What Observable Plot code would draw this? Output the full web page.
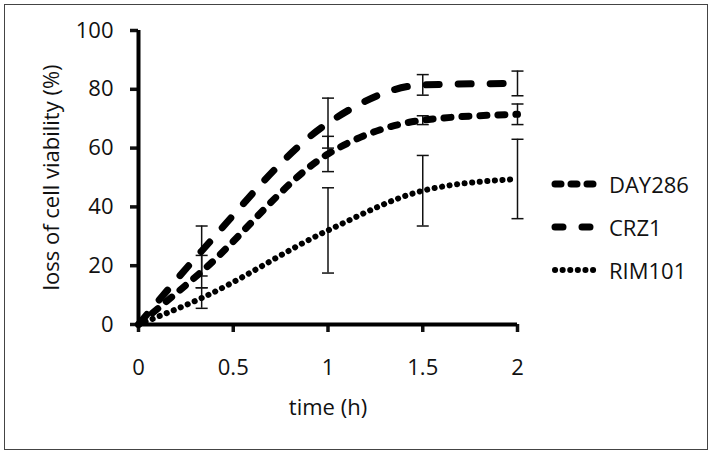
<!DOCTYPE html>
<html><head><meta charset="utf-8">
<script src="https://cdn.jsdelivr.net/npm/d3@7"></script>
<script src="https://cdn.jsdelivr.net/npm/@observablehq/plot@0.6"></script>
<style>
body{margin:0;background:#fff;font-family:"Open Sans",sans-serif;}
#wrap{position:relative;width:714px;height:456px;}
#frame{position:absolute;left:4px;top:4px;width:702px;height:444px;border:1.5px solid #444;pointer-events:none;}
#legend{position:absolute;left:551px;top:162px;font-size:22px;color:#111;}
#legend .row{display:flex;align-items:center;height:43px;}
#legend svg{margin-right:8px;}
</style></head>
<body><div id="wrap"><div id="frame"></div><div id="legend"></div></div>
<script>
const times = [0, 1/3, 1, 1.5, 2];
const seriesNames = ["DAY286", "CRZ1", "RIM101"];
const day286 = [0, 18, 58, 69.5, 71.5];
const day286Err = [0, 5.5, 6, 1.5, 3.5];
const crz1 = [0, 25, 68.5, 81.5, 82];
const crz1Err = [0, 8.5, 8.5, 3.5, 4.2];
const rim101 = [0, 9, 32, 45.5, 49.5];
const rim101Err = [0, 3.5, 14.5, 12, 13.5];
const xTicks = [0, 0.5, 1, 1.5, 2];
const yTicks = [0, 20, 40, 60, 80, 100];

const styles = {
  DAY286: {dash: "7 11", width: 7},
  CRZ1: {dash: "13 19", width: 7},
  RIM101: {dash: "0.1 7.5", width: 6}
};

const vals = {DAY286: day286, CRZ1: crz1, RIM101: rim101};
const errs = {DAY286: day286Err, CRZ1: crz1Err, RIM101: rim101Err};
const data = [];
for (const s of seriesNames) times.forEach((t, i) => data.push({series: s, t, v: vals[s][i], e: errs[s][i]}));
const errData = data.filter(d => d.e > 0);

const capSymbol = {draw(ctx, size) { const r = Math.sqrt(size / Math.PI); ctx.moveTo(-r, 0); ctx.lineTo(r, 0); }};

const lineMarks = seriesNames.map(s => Plot.line(data.filter(d => d.series === s), {
  x: "t", y: "v", curve: "monotone-x", stroke: "#000",
  strokeWidth: styles[s].width, strokeDasharray: styles[s].dash, strokeLinecap: "round"
}));

const xAxisOpts = {ticks: xTicks, tickFormat: d => String(d), label: "time (h)", labelArrow: "none", labelAnchor: "center", labelOffset: 90, tickSize: 8, tickPadding: 27};
const yAxisOpts = {ticks: yTicks, label: "loss of cell viability (%)", labelArrow: "none", labelAnchor: "center", labelOffset: 95, tickSize: 8, tickPadding: 17};

const chart = Plot.plot({
  width: 714, height: 456,
  marginLeft: 138, marginRight: 197, marginTop: 30, marginBottom: 132,
  style: {fontFamily: "Open Sans, sans-serif", fontSize: "22px", color: "#111", background: "transparent"},
  x: {domain: [0, 2], ...xAxisOpts},
  y: {domain: [0, 100], ...yAxisOpts},
  marks: [
    Plot.axisX({...xAxisOpts, strokeWidth: 3.5}),
    Plot.axisY({...yAxisOpts, strokeWidth: 3.5}),
    Plot.ruleY([0], {stroke: "#000", strokeWidth: 4}),
    Plot.ruleX([0], {stroke: "#000", strokeWidth: 4}),
    Plot.ruleX(errData, {x: "t", y1: d => d.v - d.e, y2: d => d.v + d.e, stroke: "#111", strokeWidth: 1.5}),
    Plot.dot(errData, {x: "t", y: d => d.v - d.e, symbol: capSymbol, r: 6, stroke: "#111", strokeWidth: 1.5}),
    Plot.dot(errData, {x: "t", y: d => d.v + d.e, symbol: capSymbol, r: 6, stroke: "#111", strokeWidth: 1.5}),
    ...lineMarks
  ]
});
document.getElementById("wrap").prepend(chart);

const legend = document.getElementById("legend");
const legendDash = {DAY286: "6 10", CRZ1: "8 19", RIM101: "0.1 7.5"};
for (const s of seriesNames) {
  const row = document.createElement("div");
  row.className = "row";
  row.innerHTML = `<svg width="50" height="12"><line x1="4" y1="6" x2="46" y2="6" stroke="#000" stroke-width="${styles[s].width}" stroke-linecap="round" stroke-dasharray="${legendDash[s]}"/></svg><span>${s}</span>`;
  legend.appendChild(row);
}
</script></body></html>
